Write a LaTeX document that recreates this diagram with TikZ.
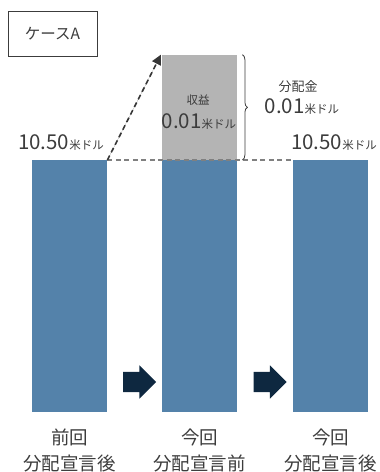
\documentclass[tikz,border=0pt]{standalone}
\usepackage{fontspec}
\setmainfont{Noto Sans CJK JP}
\usetikzlibrary{arrows.meta,decorations.pathreplacing,shapes.arrows}
\definecolor{barblue}{RGB}{84,130,170}
\definecolor{gaingray}{RGB}{180,180,180}
\definecolor{navy}{RGB}{14,40,64}
\definecolor{txt}{RGB}{60,60,60}
\tikzset{
    bar/.style={
        rectangle, fill=barblue, inner sep=0pt,
        minimum width=75pt, minimum height=252pt, anchor=north west
    },
    line/.style={
        line width=1.6pt, dash pattern=on 5pt off 3.5pt
    },
    arrow/.style={
        line,
        ->,
        > = {
            Triangle[length=3.5mm, width=3.4mm]
        }
    },
    blockarrow/.style={
        single arrow, fill=navy, inner xsep=0pt, inner ysep=10pt,
        minimum height=33pt, single arrow head extend=6.5pt
    },
    label/.style={
        text=txt, inner sep=0pt, align=center
    }
}
\newcommand{\usdval}[1]{{\fontsize{20.5}{20}\selectfont #1}{\fontsize{11.5}{11}\selectfont 米ドル}}

\begin{document}
\begin{tikzpicture}[x=1pt, y=-1pt]
    \useasboundingbox (0, 0) rectangle (380, 472);
    % Case box:
    \node (case) [draw=txt, line width=0.8pt, minimum width=89pt, minimum height=45pt, text=txt, font=\fontsize{15.5}{15}\selectfont] at (52.5, 34) {ケースA};
    % Bars:
    \node (bar1) [bar] at (32, 160) {};
    \node (bar2) [bar] at (162, 160) {};
    \node (bar3) [bar] at (293, 160) {};
    \node (gain) [rectangle, fill=gaingray, inner sep=0pt, minimum width=75pt, minimum height=105pt, anchor=south west] at (bar2.north west) {};
    % Dashed lines:
    \draw [line, draw=gray] (bar1.north east) -- (bar3.north west);
    \draw [arrow, draw=txt!90!black, fill=txt!90!black] (bar1.north east) -- ([xshift=-1pt]gain.north west);
    % Brace:
    \draw [txt, thick, decorate, decoration={brace, amplitude=5pt}] ([xshift=5pt]gain.north east) -- ([xshift=5pt]gain.south east);
    % Labels:
    \node (vleft) [label] at (61, 143) {\usdval{10.50}};
    \node (vright) [label] at (334, 143) {\usdval{10.50}};
    \node (gainlbl) [label, font=\fontsize{11.5}{11}\selectfont] at (198, 100) {収益};
    \node (gainval) [label] at (199, 122) {\usdval{0.01}};
    \node (distlbl) [label, font=\fontsize{13}{13}\selectfont] at (298, 87) {分配金};
    \node (distval) [label] at (302, 107) {\usdval{0.01}};
    % Block arrows:
    \node (arrA) [blockarrow] at (134.5, 382) {};
    \node (arrB) [blockarrow] at (265, 382) {};
    % Captions:
    \node (cap1) [label, font=\fontsize{18.5}{26}\selectfont] at (bar1.south |- 0, 450) {前回\\分配宣言後};
    \node (cap2) [label, font=\fontsize{18.5}{26}\selectfont] at (bar2.south |- 0, 450) {今回\\分配宣言前};
    \node (cap3) [label, font=\fontsize{18.5}{26}\selectfont] at (bar3.south |- 0, 450) {今回\\分配宣言後};
\end{tikzpicture}
\end{document}
